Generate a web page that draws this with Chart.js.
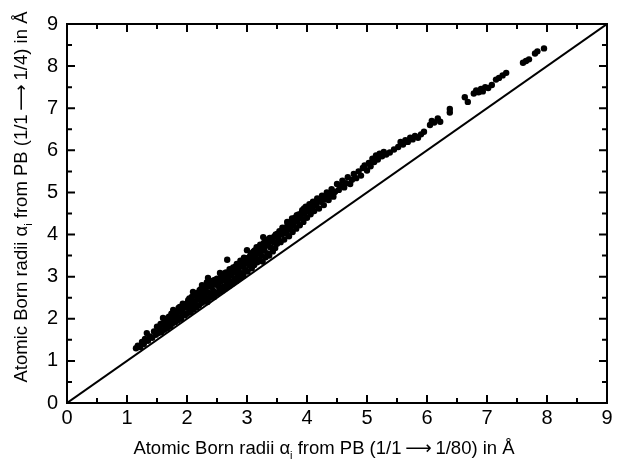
<!DOCTYPE html>
<html><head><meta charset="utf-8">
<script src="https://cdn.jsdelivr.net/npm/chart.js@4.4.0/dist/chart.umd.min.js"></script>
<style>html,body{margin:0;padding:0;background:#fff}#wrap{width:619px;height:463px}</style>
</head><body><div id="wrap"><canvas id="c" width="619" height="463"></canvas></div>
<script>
// x: Born radii from PB (1/1 -> 1/80), y: Born radii from PB (1/1 -> 1/4)
const bornRadiiPB80 = [
1.15,1.18,1.22,1.25,1.28,1.30,1.33,1.35,1.38,1.42,1.45,1.48,1.50,
1.52,1.55,1.57,1.58,1.60,1.62,1.63,1.65,1.67,1.68,1.70,1.72,1.73,1.75,1.77,1.78,1.80,1.82,1.84,1.85,1.87,1.88,1.90,1.92,1.94,1.96,1.98,
2.00,2.01,2.03,2.04,2.06,2.07,2.09,2.10,2.11,2.13,2.14,2.16,2.17,2.19,2.20,2.22,2.23,2.25,2.25,2.27,2.28,2.30,2.31,2.33,2.34,2.35,2.36,2.38,2.39,2.41,2.42,2.44,2.45,2.47,2.48,2.50,
2.51,2.52,2.54,2.55,2.56,2.58,2.59,2.61,2.62,2.64,2.65,2.66,2.67,2.69,2.70,2.71,2.73,2.74,2.76,2.77,2.79,2.80,2.82,2.83,2.85,2.86,2.88,2.89,2.91,2.92,2.94,2.95,2.97,2.98,3.00,
3.01,3.03,3.04,3.06,3.08,3.09,3.11,3.12,3.14,3.16,3.17,3.19,3.21,3.22,3.24,3.26,3.27,3.29,3.31,3.32,3.34,3.36,3.37,3.39,3.41,3.43,3.45,3.47,3.48,3.50,
3.52,3.54,3.56,3.58,3.60,3.62,3.64,3.66,3.68,3.70,3.72,3.74,3.76,3.78,3.80,3.82,3.84,3.86,3.88,3.90,3.92,3.94,3.96,3.98,4.00,
4.02,4.04,4.06,4.08,4.10,4.12,4.15,4.17,4.20,4.22,4.25,4.28,4.30,4.33,4.36,4.38,4.41,4.44,4.47,4.50,
4.53,4.56,4.59,4.62,4.65,4.68,4.72,4.75,4.78,4.82,4.86,4.90,4.93,4.96,5.00,
5.03,5.06,5.09,5.12,5.15,5.18,5.21,5.25,5.28,5.32,5.38,5.45,
5.52,5.56,5.60,5.64,5.68,5.72,5.76,5.80,5.85,5.90,5.95,
6.05,6.08,6.12,6.18,6.22,6.38,6.38,6.63,6.68,
6.78,6.82,6.86,6.90,6.93,6.97,7.02,7.08,7.15,7.20,7.26,7.32,7.60,7.65,7.70,7.80,7.84,7.95,
1.56,1.66,1.74,1.86,1.93,2.02,2.08,2.15,2.21,2.26,2.32,2.37,2.43,2.46,2.53,2.57,2.60,2.63,2.68,2.72,2.75,2.78,2.81,2.84,2.87,2.90,2.93,2.96,2.99,
3.02,3.05,3.07,3.10,3.13,3.15,3.18,3.20,3.23,3.25,3.28,3.30,3.33,3.35,3.38,3.42,3.46,3.51,3.55,3.59,3.63,3.67,3.71,3.75,3.79,3.83,3.87,3.91,3.95,3.99,
4.05,4.11,4.18,4.26,4.35,4.45
];
const bornRadiiPB4 = [
1.30,1.36,1.33,1.45,1.40,1.52,1.66,1.48,1.58,1.55,1.70,1.62,1.81,
1.66,1.75,1.68,1.88,2.02,1.74,1.85,1.95,1.78,1.90,2.05,1.83,1.98,1.88,2.21,2.02,1.92,2.10,1.96,2.18,2.04,2.28,2.00,2.14,2.25,2.08,2.35,
2.12,2.37,2.24,2.48,2.16,2.33,2.42,2.64,2.22,2.38,2.55,2.27,2.46,2.62,2.32,2.52,2.70,2.38,2.80,2.58,2.44,2.68,2.50,2.86,2.40,2.97,2.62,2.50,2.76,2.56,2.90,2.66,2.52,2.82,2.62,2.95,
2.60,2.78,2.68,3.09,2.88,2.66,2.98,2.76,2.92,2.72,3.10,2.84,3.40,2.96,2.78,3.18,2.88,3.05,2.84,3.22,2.96,3.12,2.90,3.30,3.02,3.18,2.96,3.38,3.08,3.24,3.02,3.45,3.16,3.32,3.63,
3.12,3.40,3.26,3.52,3.20,3.36,3.60,3.28,3.46,3.70,3.34,3.55,3.40,3.76,3.50,3.36,3.94,3.62,3.46,3.78,3.55,3.86,3.50,3.70,3.92,3.60,3.82,3.68,4.00,3.78,
3.90,4.08,3.82,4.00,4.10,3.88,4.16,4.02,4.24,3.96,4.12,4.30,4.06,4.22,4.40,4.14,4.32,4.48,4.22,4.40,4.58,4.30,4.50,4.66,4.40,
4.56,4.72,4.48,4.64,4.78,4.56,4.70,4.86,4.62,4.78,4.92,4.70,4.84,5.00,4.82,4.96,5.08,4.90,5.02,5.20,
5.06,5.16,5.28,5.12,5.22,5.36,5.20,5.30,5.44,5.34,5.50,5.40,5.58,5.64,5.52,
5.70,5.62,5.80,5.72,5.88,5.78,5.92,5.86,5.96,5.90,5.95,6.02,
6.08,6.20,6.14,6.24,6.20,6.30,6.26,6.34,6.30,6.38,6.44,
6.60,6.70,6.66,6.76,6.68,6.90,6.98,7.26,7.15,
7.35,7.42,7.38,7.46,7.40,7.50,7.48,7.55,7.68,7.72,7.78,7.84,8.08,8.12,8.16,8.30,8.35,8.42,
1.88,2.00,2.12,2.26,2.36,2.44,2.52,2.60,2.68,2.66,2.74,2.86,2.80,2.92,2.92,3.02,2.98,3.08,3.08,3.04,3.16,3.10,3.24,3.16,3.28,3.26,3.36,3.30,3.44,
3.36,3.48,3.56,3.46,3.62,3.54,3.66,3.60,3.70,3.66,3.80,3.72,3.88,3.80,3.92,3.84,3.96,4.02,4.06,4.16,4.10,4.30,4.20,4.38,4.32,4.46,4.40,4.52,4.62,4.56,
4.62,4.70,4.80,4.84,4.92,5.00
];
const diagonalX = [0, 9];
const diagonalY = [0, 9];
const axisMin = 0, axisMax = 9;
const minorTickValues = [0.5,1.5,2.5,3.5,4.5,5.5,6.5,7.5,8.5];
const majorTickValues = [1,2,3,4,5,6,7,8];
const xTitleParts = [['Atomic Born radii \u03B1',false],['i',true],[' from PB (1/1\u2009\u27F6\u20091/80) in \u00C5',false]];
const yTitleParts = [['Atomic Born radii \u03B1',false],['i',true],[' from PB (1/1\u2009\u27F6\u20091/4) in \u00C5',false]];

const FONT = '"Liberation Sans", Arial, "DejaVu Sans", sans-serif';

function drawParts(ctx, parts, size) {
  const big = size + 'px ' + FONT, small = Math.round(size*0.62) + 'px ' + FONT;
  let w = 0;
  for (const [t, sub] of parts) { ctx.font = sub ? small : big; w += ctx.measureText(t).width; }
  let x = -w/2;
  for (const [t, sub] of parts) {
    ctx.font = sub ? small : big;
    ctx.fillText(t, x, sub ? size*0.28 : 0);
    x += ctx.measureText(t).width;
  }
}

const framePlugin = {
  id: 'frame',
  afterDatasetsDraw(chart) {
    const {ctx, chartArea: a, scales: {x, y}} = chart;
    ctx.save();
    ctx.strokeStyle = '#000';
    ctx.lineWidth = 2;
    ctx.strokeRect(a.left, a.top, a.right - a.left, a.bottom - a.top);
    ctx.beginPath();
    const mark = (vals, len) => {
      for (const v of vals) {
        const px = x.getPixelForValue(v);
        ctx.moveTo(px, a.bottom); ctx.lineTo(px, a.bottom - len);
        ctx.moveTo(px, a.top); ctx.lineTo(px, a.top + len);
        const py = y.getPixelForValue(v);
        ctx.moveTo(a.left, py); ctx.lineTo(a.left + len, py);
        ctx.moveTo(a.right, py); ctx.lineTo(a.right - len, py);
      }
    };
    mark(majorTickValues, 8);
    mark(minorTickValues, 5);
    ctx.stroke();
    ctx.fillStyle = '#000';
    ctx.textBaseline = 'alphabetic';
    ctx.save();
    ctx.translate(324, 454);
    drawParts(ctx, xTitleParts, 18.5);
    ctx.restore();
    ctx.save();
    ctx.translate(27, 197);
    ctx.rotate(-Math.PI/2);
    drawParts(ctx, yTitleParts, 18.5);
    ctx.restore();
    ctx.restore();
  }
};

const points = bornRadiiPB80.map((v, i) => ({x: v, y: bornRadiiPB4[i]}));
const diag = diagonalX.map((v, i) => ({x: v, y: diagonalY[i]}));

new Chart(document.getElementById('c'), {
  type: 'scatter',
  data: {
    datasets: [
      {data: diag, showLine: true, borderColor: '#000', borderWidth: 2, pointRadius: 0, order: 2},
      {data: points, backgroundColor: '#000', borderWidth: 0, pointRadius: 3.2, order: 1}
    ]
  },
  options: {
    responsive: false,
    animation: false,
    layout: {padding: {top: 24, right: 12, left: 0, bottom: 0}},
    plugins: {legend: {display: false}, tooltip: {enabled: false}},
    scales: {
      x: {
        type: 'linear', min: axisMin, max: axisMax,
        ticks: {stepSize: 1, color: '#000', font: {size: 20, family: FONT}, padding: 3, maxRotation: 0},
        grid: {display: false, drawTicks: false},
        border: {display: false},
        afterFit(s) { s.height = 60; }
      },
      y: {
        type: 'linear', min: axisMin, max: axisMax,
        ticks: {stepSize: 1, color: '#000', font: {size: 20, family: FONT}, padding: 9},
        grid: {display: false, drawTicks: false},
        border: {display: false},
        afterFit(s) { s.width = 67; }
      }
    }
  },
  plugins: [framePlugin]
});
</script></body></html>
